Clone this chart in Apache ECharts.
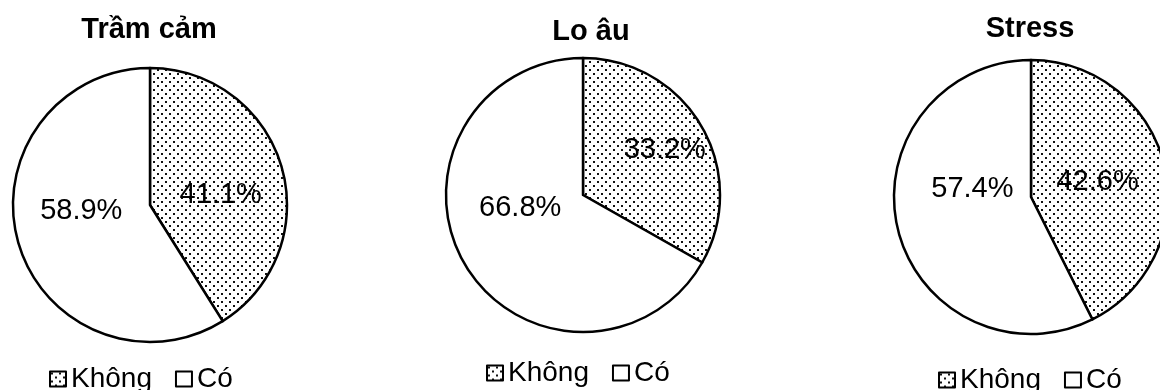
<!DOCTYPE html>
<html>
<head>
<meta charset="utf-8">
<script src="https://cdn.jsdelivr.net/npm/echarts@6/dist/echarts.min.js"></script>
<style>
html,body{margin:0;padding:0;background:#fff;}
#chart{width:1160px;height:390px;}
</style>
</head>
<body>
<div id="chart"></div>
<script>
// ---- data ----
const categories = ['Không', 'Có'];
const chartTitles = ['Trầm cảm', 'Lo âu', 'Stress'];
const tramCam = [41.1, 58.9];
const loAu = [33.2, 66.8];
const stress = [42.6, 57.4];

// ---- layout / style ----
const seriesValues = [tramCam, loAu, stress];
const centers = [[150, 205], [583, 195], [1031, 197]];
const titleX = [149, 591, 1030];
const radius = 137;
const titleTops = [15, 17, 14];
const legendLefts = [49, 486, 938];
const legendTops = [365, 359, 366];
const labelOffsets = [
  [[2, 10], [0, -14]],
  [[20, -9], [-1, -23]],
  [[-3, 1], [11, -24]]
];
const FONT = '"Liberation Sans", Arial, sans-serif';

function makePattern() {
  const c = document.createElement('canvas');
  c.width = 8; c.height = 8;
  const ctx = c.getContext('2d');
  ctx.fillStyle = '#fff';
  ctx.fillRect(0, 0, 8, 8);
  ctx.fillStyle = '#111';
  ctx.fillRect(1, 1, 2, 2);
  ctx.fillRect(5, 5, 2, 2);
  return { image: c, repeat: 'repeat' };
}
const dotPattern = makePattern();
const fills = [dotPattern, '#ffffff'];

const chart = echarts.init(document.getElementById('chart'), null, { renderer: 'canvas' });

const option = {
  backgroundColor: '#ffffff',
  animation: false,
  title: chartTitles.map((t, i) => ({
    text: t,
    left: titleX[i],
    top: titleTops[i],
    textAlign: 'center',
    padding: 0,
    textStyle: { fontFamily: FONT, fontSize: 29, fontWeight: 'bold', color: '#000' }
  })),
  legend: chartTitles.map((t, i) => ({
    data: categories,
    left: legendLefts[i],
    top: legendTops[i],
    orient: 'horizontal',
    padding: 0,
    icon: 'rect',
    itemWidth: 16,
    itemHeight: 15,
    itemGap: 23,
    selectedMode: false,
    itemStyle: { borderColor: '#000', borderWidth: 2 },
    textStyle: { fontFamily: FONT, fontSize: 28, color: '#000', padding: [0, 0, 0, 0] }
  })),
  series: seriesValues.map((vals, i) => ({
    type: 'pie',
    name: chartTitles[i],
    center: centers[i],
    radius: radius,
    startAngle: 90,
    clockwise: true,
    avoidLabelOverlap: false,
    silent: true,
    itemStyle: { borderColor: '#000', borderWidth: 2.5 },
    label: {
      show: true,
      position: 'inside',
      fontFamily: FONT,
      fontSize: 29,
      color: '#000',
      formatter: p => p.value.toFixed(1) + '%'
    },
    labelLine: { show: false },
    data: vals.map((v, j) => ({
      name: categories[j],
      value: v,
      itemStyle: { color: fills[j] },
      label: { offset: labelOffsets[i][j] }
    }))
  }))
};
chart.setOption(option);
</script>
</body>
</html>
